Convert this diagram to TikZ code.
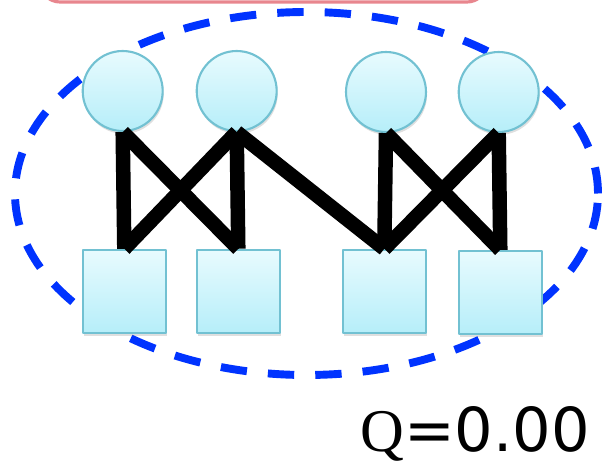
\documentclass[tikz,border=0pt]{standalone}
\usepackage{fontspec}
\newfontfamily\qserif{Liberation Serif}
\newfontfamily\qsans{DejaVu Sans}
\usepackage{xcolor}
\usepackage{tikz}
\usetikzlibrary{shadows}

\definecolor{vtxedge}{HTML}{72C1D2}
\definecolor{vtxtop}{HTML}{E8FBFE}
\definecolor{vtxbot}{HTML}{B6EEF9}
\definecolor{commblue}{HTML}{0033FF}
\definecolor{framepink}{HTML}{E8868E}

\begin{document}
\begin{tikzpicture}[x=0.02cm,y=0.02cm,line join=round,
    vtx/.style={draw=vtxedge,line width=1.2pt,top color=vtxtop,bottom color=vtxbot,
      drop shadow={opacity=0.25,shadow xshift=0.6pt,shadow yshift=-1.6pt},inner sep=0pt},
    topvtx/.style={vtx,circle,minimum size=1.6cm},
    botvtx/.style={vtx,rectangle,minimum size=1.66cm},
    link/.style={line width=0.29cm,line cap=butt}]
  \useasboundingbox (0,0) rectangle (606,464);
  % frame of the panel above
  \draw[framepink,line width=1.8pt,fill=white,rounded corners=0.4cm] (40,462) rectangle (487,540);
  % community
  \draw[commblue,line width=4.5pt,dash pattern=on 15pt off 12pt] (306.5,270.5) ellipse (291.5 and 181.5);
  % upper vertices
  \node[topvtx] (C1) at (122.7,373.0) {};
  \node[topvtx] (C2) at (236.7,373.0) {};
  \node[topvtx] (C3) at (386.0,372.0) {};
  \node[topvtx] (C4) at (498.7,372.0) {};
  % lower vertices
  \node[botvtx] (S1) at (124.3,172.7) {};
  \node[botvtx] (S2) at (238.3,172.7) {};
  \node[botvtx] (S3) at (384.3,172.7) {};
  \node[botvtx] (S4) at (500.3,171.6) {};
  % edges
  \draw[link] (C1.south) -- (S1.north);
  \draw[link] (C1.south) -- (S2.north);
  \draw[link] (C2.south) -- (S1.north);
  \draw[link] (C2.south) -- (S2.north);
  \draw[link] (C2.south) -- (S3.north);
  \draw[link] (C3.south) -- (S3.north);
  \draw[link] (C3.south) -- (S4.north);
  \draw[link] (C4.south) -- (S3.north);
  \draw[link] (C4.south) -- (S4.north);
  % modularity
  \node[anchor=base west,inner sep=0pt,font=\fontsize{34.5}{41}\selectfont] (Qval) at (360,13) {{\qserif Q}{\qsans =0.00}};
\end{tikzpicture}
\end{document}
